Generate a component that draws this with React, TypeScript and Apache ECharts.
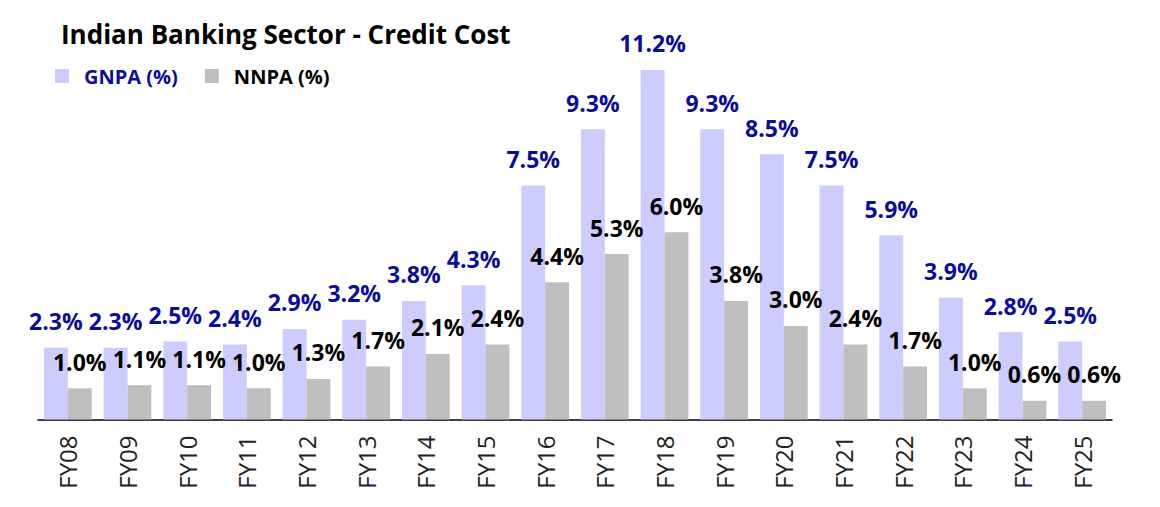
import React, { useEffect, useRef } from "react";
import * as echarts from "echarts";

const categories = ["FY08","FY09","FY10","FY11","FY12","FY13","FY14","FY15","FY16","FY17","FY18","FY19","FY20","FY21","FY22","FY23","FY24","FY25"];
const gnpa = [2.3,2.3,2.5,2.4,2.9,3.2,3.8,4.3,7.5,9.3,11.2,9.3,8.5,7.5,5.9,3.9,2.8,2.5];
const nnpa = [1.0,1.1,1.1,1.0,1.3,1.7,2.1,2.4,4.4,5.3,6.0,3.8,3.0,2.4,1.7,1.0,0.6,0.6];

const FONT = "'Open Sans', sans-serif";
const BLUE = "#0C0C9C";

export default function App() {
  const ref = useRef<HTMLDivElement>(null);
  useEffect(() => {
    const chart = echarts.init(ref.current!, null, { renderer: "svg" });
    chart.setOption({
      animation: false,
      title: {
        text: "Indian Banking Sector - Credit Cost",
        left: 56,
        top: 16,
        textStyle: { fontFamily: FONT, fontWeight: "bold", fontSize: 26, color: "#000" },
      },
      legend: {
        left: 55,
        top: 66,
        padding: 0,
        icon: "rect",
        itemWidth: 14,
        itemHeight: 14,
        itemGap: 27,
        textStyle: { fontFamily: FONT, fontWeight: "bold", fontSize: 20, padding: [0, 0, 0, 10] },
        data: [
          { name: "GNPA (%)", textStyle: { color: BLUE } },
          { name: "NNPA (%)", textStyle: { color: "#000" } },
        ],
      },
      grid: { left: 38, right: 48, top: 45, bottom: 87.5, containLabel: false },
      xAxis: {
        type: "category",
        data: categories,
        axisLine: { lineStyle: { color: "#000", width: 1.5 } },
        axisTick: { show: false },
        axisLabel: {
          rotate: 90,
          margin: 16,
          fontFamily: FONT,
          fontSize: 24,
          color: "#222",
        },
      },
      yAxis: { type: "value", min: 0, max: 12, show: false, splitLine: { show: false } },
      series: [
        {
          name: "GNPA (%)",
          type: "bar",
          data: gnpa,
          barGap: "0%",
          barCategoryGap: "20%",
          itemStyle: { color: "#CCCCFF" },
          label: {
            show: true,
            position: "top",
            distance: 15,
            formatter: (p: any) => p.value.toFixed(1) + "%",
            fontFamily: FONT,
            fontWeight: "bold",
            fontSize: 23,
            color: BLUE,
          },
        },
        {
          name: "NNPA (%)",
          type: "bar",
          data: nnpa,
          itemStyle: { color: "#BFBFBF" },
          label: {
            show: true,
            position: "top",
            distance: 15,
            formatter: (p: any) => p.value.toFixed(1) + "%",
            fontFamily: FONT,
            fontWeight: "bold",
            fontSize: 23,
            color: "#000",
          },
        },
      ],
    });
    return () => chart.dispose();
  }, []);
  return (
    <div
      ref={ref}
      style={{ position: "fixed", left: 0, top: 0, width: 1160, height: 507, background: "#fff" }}
    />
  );
}
